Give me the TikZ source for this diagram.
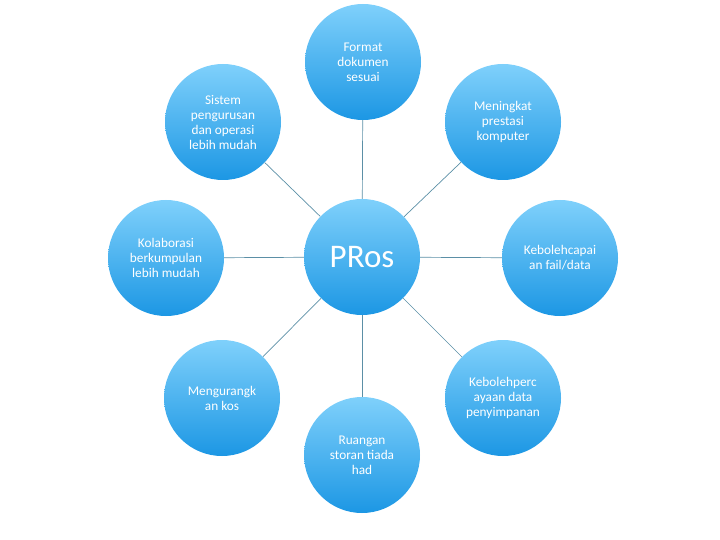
\documentclass[tikz,border=0pt]{standalone}
\usepackage{fontspec}
\setmainfont{Carlito}
\definecolor{topblue}{HTML}{7FD0FB}
\definecolor{botblue}{HTML}{1C97E4}
\definecolor{linkcol}{HTML}{5B8FA6}
\begin{document}
\begin{tikzpicture}[x=1pt,y=-1pt,
  bubble/.style={circle, minimum size=116pt, inner sep=0pt, align=center,
    text=white, top color=topblue, bottom color=botblue, draw=none,
    font=\fontsize{13.3}{15}\selectfont},
  hub/.style={bubble, font=\fontsize{33}{36}\selectfont},
  link/.style={draw=linkcol, line width=0.7pt}]
\useasboundingbox (0,0) rectangle (720,540);
\node[hub] (c) at (362,257) {PRos};
\node[bubble] (n) at (363,62) {Format\\dokumen\\sesuai};
\node[bubble] (nw) at (223,122) {Sistem\\pengurusan\\dan operasi\\lebih mudah};
\node[bubble] (ne) at (503,122) {Meningkat\\prestasi\\komputer};
\node[bubble] (w) at (166,258) {Kolaborasi\\berkumpulan\\lebih mudah};
\node[bubble] (e) at (560,258) {Kebolehcapai\\an fail/data};
\node[bubble] (sw) at (222,398) {Mengurangk\\an kos};
\node[bubble] (se) at (503,398) {Kebolehperc\\ayaan data\\penyimpanan};
\node[bubble] (s) at (362,455) {Ruangan\\storan tiada\\had};
\foreach \t in {n,nw,ne,w,e,sw,se,s} \draw[link] (c) -- (\t);
\end{tikzpicture}
\end{document}
